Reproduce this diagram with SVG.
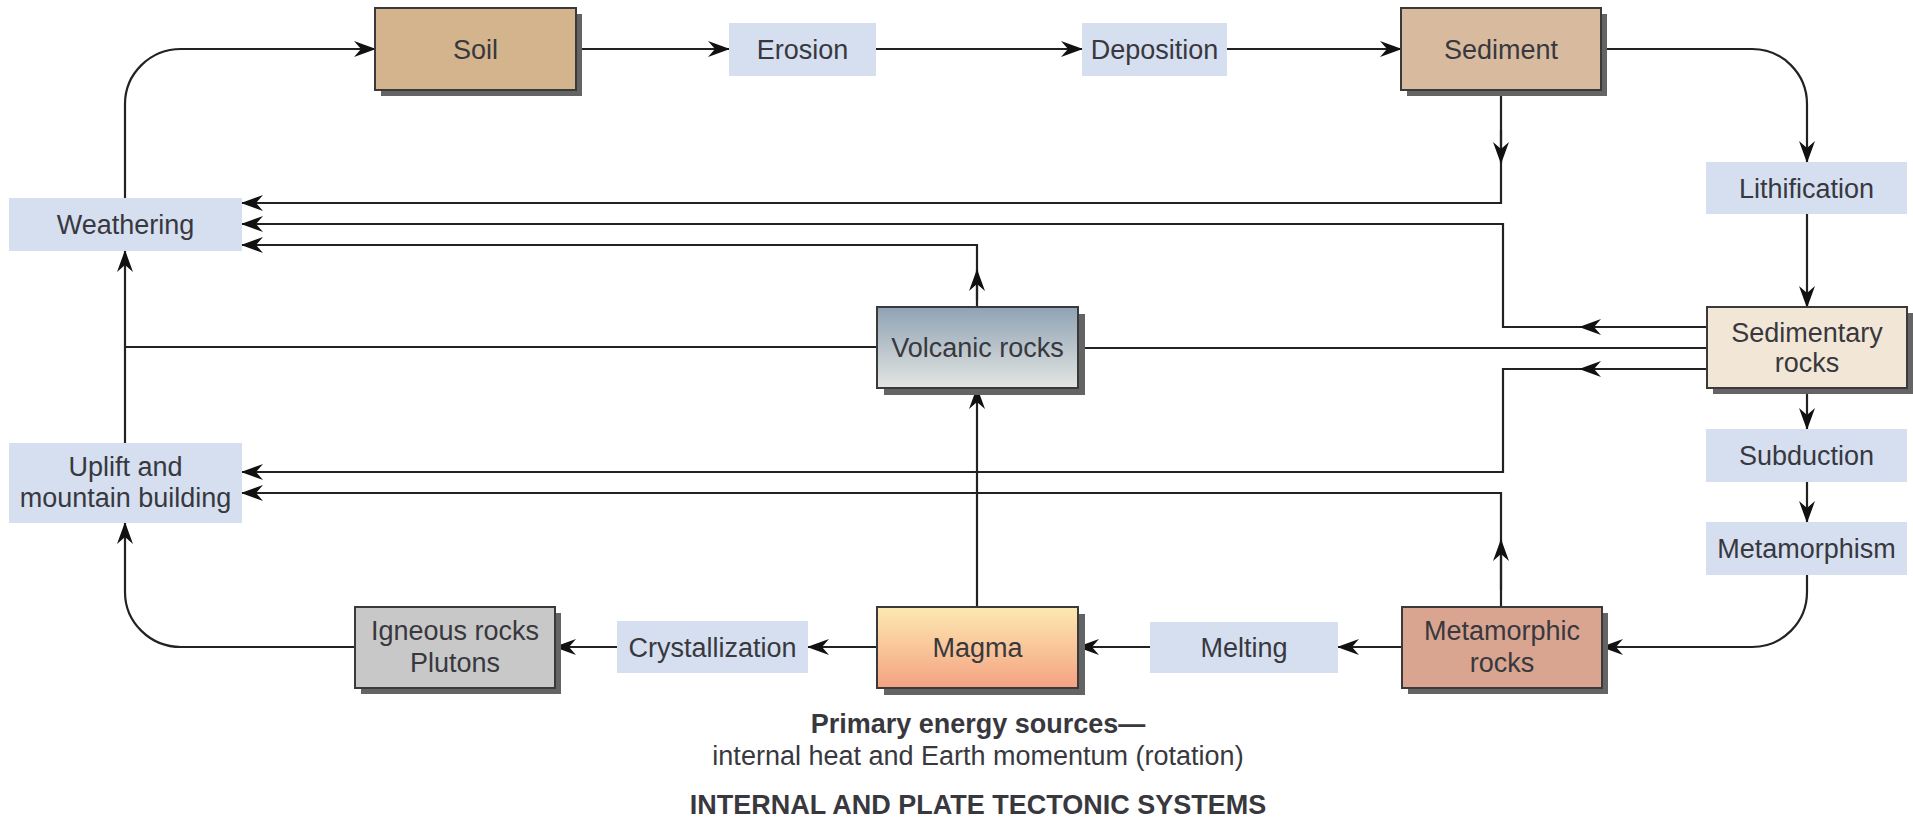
<svg xmlns="http://www.w3.org/2000/svg" width="1913" height="825" viewBox="0 0 1913 825">
<defs>
<marker id="ah" viewBox="0 0 22 16" refX="21" refY="8" markerWidth="22" markerHeight="16" markerUnits="userSpaceOnUse" orient="auto">
<path d="M0,0 L22,8 L0,16 L7,8 z" fill="#111"/>
</marker>
<linearGradient id="gVol" x1="0" y1="0" x2="0" y2="1">
<stop offset="0" stop-color="#8fa2b4"/>
<stop offset="1" stop-color="#e3e6e2"/>
</linearGradient>
<linearGradient id="gMag" x1="0" y1="0" x2="0" y2="1">
<stop offset="0" stop-color="#fde9b2"/>
<stop offset="1" stop-color="#f4a281"/>
</linearGradient>
</defs>
<style>
.ln{fill:none;stroke:#222;stroke-width:2.2}
.ar{marker-end:url(#ah)}
.sh{fill:#646464}
.bx{stroke:#3a3a3a;stroke-width:2}
.lb{fill:#d5dff0}
text{font-family:"Liberation Sans",Arial,sans-serif;font-size:27px;fill:#38383e;text-anchor:middle}
.b{font-weight:bold}
</style>
<rect width="1913" height="825" fill="#ffffff"/>

<g id="connectors">
<path class="ln ar" d="M125,198 V104 A56,55 0 0 1 181,49 H375"/>
<path class="ln ar" d="M576,49 H729"/>
<path class="ln ar" d="M876,49 H1082"/>
<path class="ln ar" d="M1227,49 H1401"/>
<path class="ln ar" d="M1601,49 H1752 A55,55 0 0 1 1807,104 V162"/>
<path class="ln ar" d="M1807,214 V307"/>
<path class="ln ar" d="M1807,388 V429"/>
<path class="ln ar" d="M1807,482 V522"/>
<path class="ln ar" d="M1807,575 V592 A55,55 0 0 1 1752,647 H1602"/>
<path class="ln ar" d="M1402,647 H1338"/>
<path class="ln ar" d="M1150,647 H1078"/>
<path class="ln ar" d="M877,647 H808"/>
<path class="ln ar" d="M617,647 H555"/>
<path class="ln ar" d="M355,647 H181 A56,55 0 0 1 125,592 V523"/>
<path class="ln ar" d="M125,443 V251"/>
<path class="ln" d="M877,347 H125"/>
<path class="ln ar" d="M977,607 V388"/>
<path class="ln ar" d="M977,307 V245 H242"/>
<path class="ln ar" d="M977,300 V270"/>
<path class="ln ar" d="M1501,90 V203 H242"/>
<path class="ln ar" d="M1501,130 V163"/>
<path class="ln ar" d="M1707,327 H1503 V224 H242"/>
<path class="ln ar" d="M1640,327 H1580"/>
<path class="ln" d="M1078,348 H1707"/>
<path class="ln ar" d="M1707,369 H1503 V472 H242"/>
<path class="ln ar" d="M1640,369 H1580"/>
<path class="ln ar" d="M1501,607 V493 H242"/>
<path class="ln ar" d="M1501,590 V540"/>
</g>

<g id="soil">
<rect class="sh" x="381" y="14" width="201" height="82"/>
<rect class="bx" x="375" y="8" width="201" height="82" fill="#d3b48c"/>
<text x="475.5" y="58.5">Soil</text>
</g>
<g id="erosion">
<rect class="lb" x="729" y="23" width="147" height="53"/>
<text x="802.5" y="58.5">Erosion</text>
</g>
<g id="deposition">
<rect class="lb" x="1082" y="23" width="145" height="53"/>
<text x="1154.5" y="58.5">Deposition</text>
</g>
<g id="sediment">
<rect class="sh" x="1407" y="14" width="200" height="82"/>
<rect class="bx" x="1401" y="8" width="200" height="82" fill="#d8bb9f"/>
<text x="1501" y="58.5">Sediment</text>
</g>
<g id="lithification">
<rect class="lb" x="1706" y="162" width="201" height="52"/>
<text x="1806.5" y="197.5">Lithification</text>
</g>
<g id="weathering">
<rect class="lb" x="9" y="198" width="233" height="53"/>
<text x="125.5" y="234">Weathering</text>
</g>
<g id="volcanic">
<rect class="sh" x="884" y="314" width="201" height="81"/>
<rect class="bx" x="877" y="307" width="201" height="81" fill="url(#gVol)"/>
<text x="977.5" y="357">Volcanic rocks</text>
</g>
<g id="sedimentary">
<rect class="sh" x="1713" y="313" width="200" height="81"/>
<rect class="bx" x="1707" y="307" width="200" height="81" fill="#f2e7d7"/>
<text x="1807" y="342">Sedimentary</text>
<text x="1807" y="372">rocks</text>
</g>
<g id="uplift">
<rect class="lb" x="9" y="443" width="233" height="80"/>
<text x="125.5" y="476">Uplift and</text>
<text x="125.5" y="507">mountain building</text>
</g>
<g id="subduction">
<rect class="lb" x="1706" y="429" width="201" height="53"/>
<text x="1806.5" y="465">Subduction</text>
</g>
<g id="metamorphism">
<rect class="lb" x="1706" y="522" width="201" height="53"/>
<text x="1806.5" y="558">Metamorphism</text>
</g>
<g id="igneous">
<rect class="sh" x="361" y="613" width="200" height="81"/>
<rect class="bx" x="355" y="607" width="200" height="81" fill="#c8c8c8"/>
<text x="455" y="640">Igneous rocks</text>
<text x="455" y="672">Plutons</text>
</g>
<g id="crystallization">
<rect class="lb" x="617" y="621" width="191" height="52"/>
<text x="712.5" y="657">Crystallization</text>
</g>
<g id="magma">
<rect class="sh" x="884" y="614" width="201" height="81"/>
<rect class="bx" x="877" y="607" width="201" height="81" fill="url(#gMag)"/>
<text x="977.5" y="657">Magma</text>
</g>
<g id="melting">
<rect class="lb" x="1150" y="622" width="188" height="51"/>
<text x="1244" y="657">Melting</text>
</g>
<g id="metamorphic">
<rect class="sh" x="1408" y="613" width="200" height="81"/>
<rect class="bx" x="1402" y="607" width="200" height="81" fill="#d9a591"/>
<text x="1502" y="640">Metamorphic</text>
<text x="1502" y="672">rocks</text>
</g>

<g id="captions">
<text class="b" x="978" y="733">Primary energy sources—</text>
<text x="978" y="765">internal heat and Earth momentum (rotation)</text>
<text class="b" x="978" y="814">INTERNAL AND PLATE TECTONIC SYSTEMS</text>
</g>
</svg>
